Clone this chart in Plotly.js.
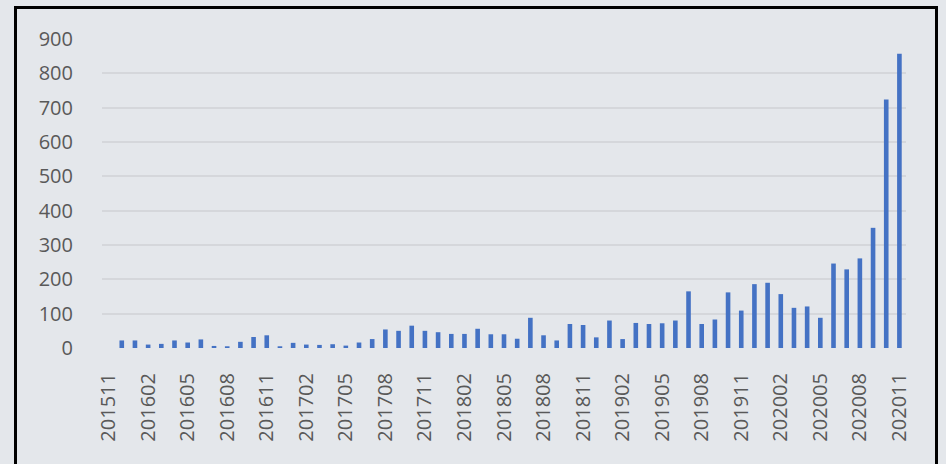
<!DOCTYPE html>
<html>
<head>
<meta charset="utf-8">
<script src="https://cdn.plot.ly/plotly-3.0.1.min.js"></script>
<style>
html,body{margin:0;padding:0;background:#e4e7eb;overflow:hidden;}
#chart{width:946px;height:464px;position:absolute;left:0;top:0;}
#frame{position:absolute;left:14px;top:6px;width:918px;height:520px;border:3px solid #000;pointer-events:none;}
</style>
</head>
<body>
<div id="chart"></div>
<div id="frame"></div>
<script>
const months = [
 "201511","201512","201601","201602","201603","201604","201605","201606","201607","201608","201609","201610","201611","201612",
 "201701","201702","201703","201704","201705","201706","201707","201708","201709","201710","201711","201712",
 "201801","201802","201803","201804","201805","201806","201807","201808","201809","201810","201811","201812",
 "201901","201902","201903","201904","201905","201906","201907","201908","201909","201910","201911","201912",
 "202001","202002","202003","202004","202005","202006","202007","202008","202009","202010","202011"
];
const values = [
 0,22,22,10,12,22,16,25,6,5,18,32,37,5,
 15,10,9,11,7,16,26,54,50,65,50,46,
 41,41,56,40,40,27,88,37,22,70,67,31,
 80,26,73,70,72,80,165,70,83,162,109,186,
 190,157,117,121,88,246,229,261,350,724,857
];
const tickLabels = ["201511","201602","201605","201608","201611","201702","201705","201708","201711","201802","201805",
 "201808","201811","201902","201905","201908","201911","202002","202005","202008","202011"];
const yTicks = [0,100,200,300,400,500,600,700,800,900];

const font = {family: "Open Sans, Noto Sans, sans-serif", size: 20, color: "#595959"};
Plotly.newPlot("chart", [{
  type: "bar",
  x: months,
  y: values,
  marker: {color: "#4472c4"},
  hoverinfo: "x+y"
}], {
  width: 946, height: 464,
  margin: {l: 102, r: 40, t: 39, b: 116, pad: 0},
  paper_bgcolor: "#e4e7eb",
  plot_bgcolor: "#e4e7eb",
  bargap: 0.65,
  showlegend: false,
  font: font,
  xaxis: {
    type: "category",
    tickmode: "array",
    tickvals: tickLabels,
    ticktext: tickLabels,
    tickangle: -90,
    tickfont: font,
    ticks: "outside", ticklen: 16, tickcolor: "rgba(0,0,0,0)",
    showgrid: false, zeroline: false, showline: false
  },
  yaxis: {
    range: [0, 900],
    tickmode: "array",
    tickvals: yTicks,
    tickfont: font,
    ticks: "outside", ticklen: 24, tickcolor: "rgba(0,0,0,0)",
    showgrid: true, gridcolor: "#d5d7db", gridwidth: 2,
    zeroline: false, showline: false, fixedrange: true
  }
}, {displayModeBar: false, staticPlot: true});
</script>
</body>
</html>
